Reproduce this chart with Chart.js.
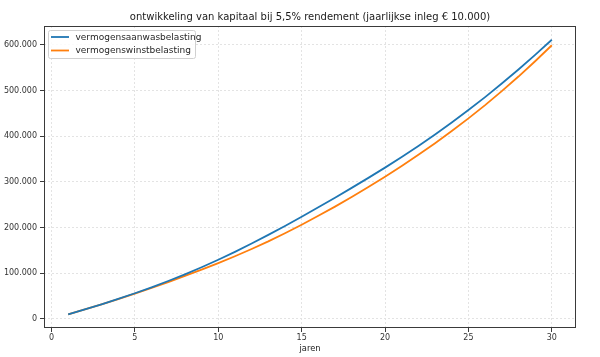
<!DOCTYPE html>
<html>
<head>
<meta charset="utf-8">
<script src="https://cdn.jsdelivr.net/npm/chart.js@4"></script>
<style>
  html, body { margin: 0; padding: 0; background: #fff; }
  #wrap { width: 600px; height: 357px; position: relative; }
</style>
</head>
<body>
<div id="wrap"><canvas id="c" width="600" height="357"></canvas></div>
<script>
const titleText = "ontwikkeling van kapitaal bij 5,5% rendement (jaarlijkse inleg € 10.000)";
const xLabel = "jaren";
const years = [1,2,3,4,5,6,7,8,9,10,11,12,13,14,15,16,17,18,19,20,21,22,23,24,25,26,27,28,29,30];
const seriesNames = ["vermogensaanwasbelasting", "vermogenswinstbelasting"];
const aanwas = [10000,20600,31700,43500,56000,69000,82800,97400,112900,129300,
                146600,164800,183800,203300,223500,244100,265200,286700,308600,331000,
                354200,378400,403600,429800,457000,485400,515100,545900,577900,611000];
const winst  = [10000,20500,31500,43000,55000,67500,80500,94000,107800,122000,
                137000,152900,169700,187500,206100,225500,245700,266700,288500,311100,
                334600,359100,384600,411200,438900,467900,498400,530400,563900,598900];
const xTicks = [0,5,10,15,20,25,30];
const yTicks = [0,100000,200000,300000,400000,500000,600000];
const colors = ["#1f77b4", "#ff7f0e"];

function fmt(v) {
  return String(Math.round(v)).replace(/\B(?=(\d{3})+(?!\d))/g, ".");
}

const allY = aanwas.concat(winst);
const yMinD = Math.min(...allY), yMaxD = Math.max(...allY);
const yPad = (yMaxD - yMinD) * 0.05;
const xMinD = Math.min(...years), xMaxD = Math.max(...years);
const xPad = (xMaxD - xMinD) * 0.05;

const FONT = "'DejaVu Sans', sans-serif";

const framePlugin = {
  id: 'frame',
  afterDatasetsDraw(chart) {
    const {ctx, chartArea: a} = chart;
    ctx.save();
    ctx.strokeStyle = '#3a3a3a';
    ctx.lineWidth = 1;
    ctx.strokeRect(Math.round(a.left) + 0.5, Math.round(a.top) + 0.5,
                   Math.round(a.right - a.left) - 1, Math.round(a.bottom - a.top) - 1);
    // legend
    const lx = a.left + 4.5, ly = a.top + 4.5, lw = 147, lh = 28;
    ctx.fillStyle = 'rgba(255,255,255,0.85)';
    ctx.strokeStyle = '#d0d0d0';
    ctx.lineWidth = 1;
    ctx.beginPath();
    if (ctx.roundRect) ctx.roundRect(lx, ly, lw, lh, 2); else ctx.rect(lx, ly, lw, lh);
    ctx.fill();
    ctx.stroke();
    ctx.font = "9px " + FONT;
    ctx.textBaseline = 'middle';
    chart.data.datasets.forEach((ds, i) => {
      const yy = ly + 6.5 + i * 13.5;
      ctx.strokeStyle = ds.borderColor;
      ctx.lineWidth = 1.8;
      ctx.beginPath();
      ctx.moveTo(lx + 2.5, yy);
      ctx.lineTo(lx + 20.5, yy);
      ctx.stroke();
      ctx.fillStyle = '#262626';
      ctx.fillText(ds.label, lx + 27, yy + 0.5);
    });
    ctx.restore();
  }
};

new Chart(document.getElementById('c'), {
  type: 'line',
  data: {
    datasets: [
      { label: seriesNames[0], data: years.map((x, i) => ({x, y: aanwas[i]})),
        borderColor: colors[0], backgroundColor: colors[0], borderWidth: 1.8,
        pointRadius: 0, tension: 0, fill: false },
      { label: seriesNames[1], data: years.map((x, i) => ({x, y: winst[i]})),
        borderColor: colors[1], backgroundColor: colors[1], borderWidth: 1.8,
        pointRadius: 0, tension: 0, fill: false }
    ]
  },
  options: {
    responsive: false,
    animation: false,
    devicePixelRatio: 1,
    layout: { padding: { left: 0, right: 24, top: 0, bottom: 0 } },
    plugins: {
      legend: { display: false },
      tooltip: { enabled: false },
      title: {
        display: true, text: titleText, fullSize: false,
        color: '#1a1a1a',
        font: { family: FONT, size: 10, weight: 'normal', lineHeight: 1.2 },
        padding: { top: 11.5, bottom: 2.5 }
      }
    },
    scales: {
      x: {
        type: 'linear',
        min: xMinD - xPad, max: xMaxD + xPad,
        afterBuildTicks: (s) => { s.ticks = xTicks.map(v => ({value: v})); },
        afterFit: (s) => { s.height = 29; },
        ticks: {
          color: '#333', padding: 1, maxRotation: 0,
          font: { family: FONT, size: 8 },
          callback: (v) => String(v)
        },
        grid: { color: '#e3e3e3', lineWidth: 1, tickLength: 4, tickColor: '#3a3a3a', tickWidth: 1 },
        border: { display: false, dash: [2, 2] },
        title: { display: true, text: xLabel, color: '#1a1a1a',
                 font: { family: FONT, size: 8.3, lineHeight: 1.2 },
                 padding: { top: 0, bottom: 2.7 } }
      },
      y: {
        type: 'linear',
        min: yMinD - yPad, max: yMaxD + yPad,
        afterBuildTicks: (s) => { s.ticks = yTicks.map(v => ({value: v})); },
        afterFit: (s) => { s.width = 44; },
        ticks: {
          color: '#333', padding: 3,
          font: { family: FONT, size: 8 },
          callback: (v) => fmt(v)
        },
        grid: { color: '#e3e3e3', lineWidth: 1, tickLength: 4, tickColor: '#3a3a3a', tickWidth: 1 },
        border: { display: false, dash: [2, 2] }
      }
    }
  },
  plugins: [framePlugin]
});
</script>
</body>
</html>
